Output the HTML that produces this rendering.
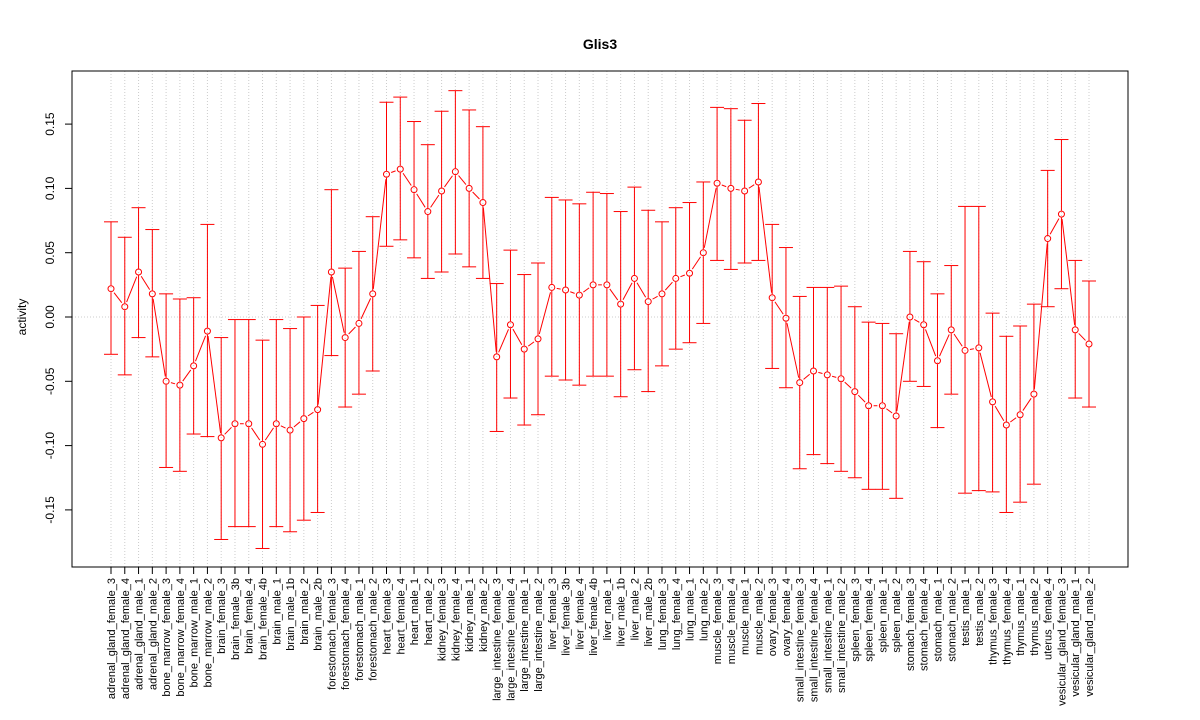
<!DOCTYPE html>
<html><head><meta charset="utf-8"><style>
body{margin:0;background:#fff}
svg{display:block;font-family:"Liberation Sans",Arial,sans-serif}
</style></head><body>
<svg id="chart" width="1200" height="720">
<text x="600" y="49" text-anchor="middle" font-size="14" font-weight="bold">Glis3</text>
<text transform="translate(26,317) rotate(-90)" text-anchor="middle" font-size="12">activity</text>
</svg>
<script>
const categories=["adrenal_gland_female_3","adrenal_gland_female_4","adrenal_gland_male_1","adrenal_gland_male_2","bone_marrow_female_3","bone_marrow_female_4","bone_marrow_male_1","bone_marrow_male_2","brain_female_3","brain_female_3b","brain_female_4","brain_female_4b","brain_male_1","brain_male_1b","brain_male_2","brain_male_2b","forestomach_female_3","forestomach_female_4","forestomach_male_1","forestomach_male_2","heart_female_3","heart_female_4","heart_male_1","heart_male_2","kidney_female_3","kidney_female_4","kidney_male_1","kidney_male_2","large_intestine_female_3","large_intestine_female_4","large_intestine_male_1","large_intestine_male_2","liver_female_3","liver_female_3b","liver_female_4","liver_female_4b","liver_male_1","liver_male_1b","liver_male_2","liver_male_2b","lung_female_3","lung_female_4","lung_male_1","lung_male_2","muscle_female_3","muscle_female_4","muscle_male_1","muscle_male_2","ovary_female_3","ovary_female_4","small_intestine_female_3","small_intestine_female_4","small_intestine_male_1","small_intestine_male_2","spleen_female_3","spleen_female_4","spleen_male_1","spleen_male_2","stomach_female_3","stomach_female_4","stomach_male_1","stomach_male_2","testis_male_1","testis_male_2","thymus_female_3","thymus_female_4","thymus_male_1","thymus_male_2","uterus_female_4","vesicular_gland_female_3","vesicular_gland_male_1","vesicular_gland_male_2"];
const values=[0.022,0.008,0.035,0.018,-0.05,-0.053,-0.038,-0.011,-0.094,-0.083,-0.083,-0.099,-0.083,-0.088,-0.079,-0.072,0.035,-0.016,-0.005,0.018,0.111,0.115,0.099,0.082,0.098,0.113,0.1,0.089,-0.031,-0.006,-0.025,-0.017,0.023,0.021,0.017,0.025,0.025,0.01,0.03,0.012,0.018,0.03,0.034,0.05,0.104,0.1,0.098,0.105,0.015,-0.001,-0.051,-0.042,-0.045,-0.048,-0.058,-0.069,-0.069,-0.077,0,-0.006,-0.034,-0.01,-0.026,-0.024,-0.066,-0.084,-0.076,-0.06,0.061,0.08,-0.01,-0.021];
const upper=[0.074,0.062,0.085,0.068,0.018,0.014,0.015,0.072,-0.016,-0.002,-0.002,-0.018,-0.002,-0.009,0,0.009,0.099,0.038,0.051,0.078,0.167,0.171,0.152,0.134,0.16,0.176,0.161,0.148,0.026,0.052,0.033,0.042,0.093,0.091,0.088,0.097,0.096,0.082,0.101,0.083,0.074,0.085,0.089,0.105,0.163,0.162,0.153,0.166,0.072,0.054,0.016,0.023,0.023,0.024,0.008,-0.004,-0.005,-0.013,0.051,0.043,0.018,0.04,0.086,0.086,0.003,-0.015,-0.007,0.01,0.114,0.138,0.044,0.028];
const lower=[-0.029,-0.045,-0.016,-0.031,-0.117,-0.12,-0.091,-0.093,-0.173,-0.163,-0.163,-0.18,-0.163,-0.167,-0.158,-0.152,-0.03,-0.07,-0.06,-0.042,0.055,0.06,0.046,0.03,0.035,0.049,0.039,0.03,-0.089,-0.063,-0.084,-0.076,-0.046,-0.049,-0.053,-0.046,-0.046,-0.062,-0.041,-0.058,-0.038,-0.025,-0.02,-0.005,0.044,0.037,0.042,0.044,-0.04,-0.055,-0.118,-0.107,-0.114,-0.12,-0.125,-0.134,-0.134,-0.141,-0.05,-0.054,-0.086,-0.06,-0.137,-0.135,-0.136,-0.152,-0.144,-0.13,0.008,0.022,-0.063,-0.07];
const yTicks=[-0.15,-0.10,-0.05,0.00,0.05,0.10,0.15];

const svg=document.getElementById('chart');
const NS='http://www.w3.org/2000/svg';
const L=72,R=1128,T=71,B=567;
const x=i=>111+i*(1089-111)/(categories.length-1);
const y=v=>317-v*1286;
function mk(tag,attrs,parent){const e=document.createElementNS(NS,tag);for(const k in attrs)e.setAttribute(k,attrs[k]);(parent||svg).appendChild(e);return e;}

const grid=mk('g',{});


categories.forEach((c,i)=>{mk('line',{x1:x(i),x2:x(i),y1:T,y2:B,stroke:'#ccc','stroke-dasharray':'1,2'},grid);});
mk('line',{x1:L,x2:R,y1:y(0),y2:y(0),stroke:'#ccc','stroke-dasharray':'1,2'},grid);

const box=mk('rect',{x:L,y:T,width:R-L,height:B-T,fill:'none',stroke:'#000'});



const yax=mk('g',{});


mk('line',{x1:L,x2:L,y1:y(yTicks[0]),y2:y(yTicks[yTicks.length-1]),stroke:'#000'},yax);
yTicks.forEach(t=>{
  mk('line',{x1:L-7,x2:L,y1:y(t),y2:y(t),stroke:'#000'},yax);
  const tx=mk('text',{transform:`translate(54,${y(t)}) rotate(-90)`,'text-anchor':'middle','font-size':12},yax);
  tx.textContent=t.toFixed(2);
  
  
});

const xax=mk('g',{});


mk('line',{x1:x(0),x2:x(categories.length-1),y1:B,y2:B,stroke:'#000'},xax);
categories.forEach((c,i)=>{
  mk('line',{x1:x(i),x2:x(i),y1:B,y2:B+7,stroke:'#000'},xax);
  const tx=mk('text',{transform:`translate(${x(i)+4},578) rotate(-90)`,'text-anchor':'end','font-size':11},xax);
  tx.textContent=c;
  
  
});

const bars=mk('g',{stroke:'#ff0000','stroke-width':1,fill:'none'});


categories.forEach((c,i)=>{
  const g=mk('g',{},bars);
  
  
  const xi=x(i);
  mk('line',{x1:xi,x2:xi,y1:y(upper[i]),y2:y(values[i])-3.5},g);
  mk('line',{x1:xi,x2:xi,y1:y(values[i])+3.5,y2:y(lower[i])},g);
  mk('line',{x1:xi-7,x2:xi+7,y1:y(upper[i]),y2:y(upper[i])},g);
  mk('line',{x1:xi-7,x2:xi+7,y1:y(lower[i]),y2:y(lower[i])},g);
});

const line=mk('g',{stroke:'#ff0000','stroke-width':1,fill:'none'});


for(let i=0;i<values.length-1;i++){
  const x1=x(i),y1=y(values[i]),x2=x(i+1),y2=y(values[i+1]);
  const dx=x2-x1,dy=y2-y1,d=Math.hypot(dx,dy),g=5;
  if(d>2*g) mk('line',{x1:x1+dx*g/d,y1:y1+dy*g/d,x2:x2-dx*g/d,y2:y2-dy*g/d},line);
}
values.forEach((v,i)=>{
  const c=mk('circle',{cx:x(i),cy:y(v),r:3,stroke:'#ff0000',fill:'none'});
  
  
});
</script>
</body></html>
